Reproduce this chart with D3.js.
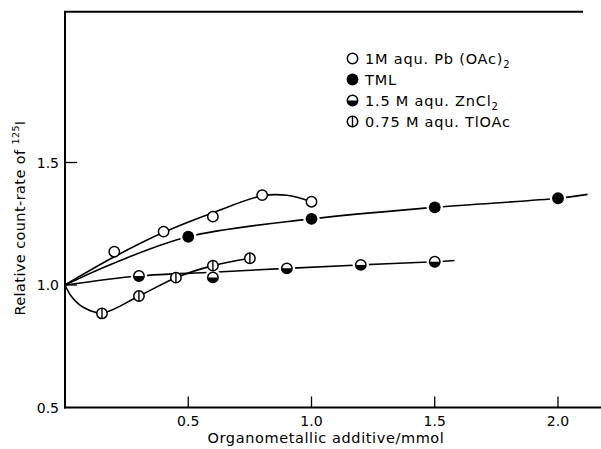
<!DOCTYPE html>
<html><head><meta charset="utf-8">
<script src="https://cdn.jsdelivr.net/npm/d3@7"></script>
<style>html,body{margin:0;padding:0;background:#fff;}svg{display:block;font-family:"DejaVu Sans",sans-serif;}</style>
</head><body>
<svg id="c" width="601" height="449"></svg>
<script>
// ---- data ----
const pbX = [0.2, 0.4, 0.6, 0.8, 1.0];
const pbY = [1.136, 1.218, 1.279, 1.367, 1.34];
const tmlX = [0.5, 1.0, 1.5, 2.0];
const tmlY = [1.197, 1.27, 1.317, 1.354];
const znX = [0.3, 0.6, 0.9, 1.2, 1.5];
const znY = [1.037, 1.031, 1.068, 1.082, 1.095];
const tlX = [0.15, 0.3, 0.45, 0.6, 0.75];
const tlY = [0.884, 0.955, 1.03, 1.079, 1.109];
// fitted curves
const pbCurveX = [0, 0.2, 0.4, 0.6, 0.8, 0.9, 1.0];
const pbCurveY = [1.0, 1.115, 1.215, 1.295, 1.364, 1.366, 1.34];
const tmlCurveX = [0, 0.2, 0.5, 1.0, 1.5, 2.0, 2.12];
const tmlCurveY = [1.0, 1.09, 1.197, 1.27, 1.317, 1.354, 1.37];
const znCurveX = [0, 0.3, 0.6, 0.9, 1.2, 1.5, 1.58];
const znCurveY = [1.0, 1.037, 1.052, 1.068, 1.082, 1.095, 1.10];
const tlCurveX = [0, 0.027, 0.074, 0.15, 0.3, 0.45, 0.6, 0.75];
const tlCurveY = [1.0, 0.952, 0.909, 0.886, 0.955, 1.03, 1.079, 1.109];
const xTicks = [0.5, 1.0, 1.5, 2.0];
const yTicks = [0.5, 1.0, 1.5];
const legendLabels = ["1M aqu. Pb (OAc)", "TML", "1.5 M aqu. ZnCl", "0.75 M aqu. TlOAc"];
const legendSubs = ["2", "", "2", ""];
const markerTypes = ["open", "filled", "half", "vbar"];

// ---- scales ----
const svg = d3.select("#c");
const x = d3.scaleLinear().domain([0, 2]).range([65, 558]);
const y = d3.scaleLinear().domain([0.5, 1.5]).range([407.5, 162.5]);
const yTop = 2.115;

// ---- frame ----
svg.append("line").attr("x1", 65).attr("x2", 65).attr("y1", y(yTop)).attr("y2", y(0.5)+1)
  .attr("stroke", "#000").attr("stroke-width", 2);
svg.append("line").attr("x1", 64).attr("x2", 583).attr("y1", y(yTop)).attr("y2", y(yTop))
  .attr("stroke", "#000").attr("stroke-width", 2);
svg.append("line").attr("x1", 64).attr("x2", 601).attr("y1", y(0.5)).attr("y2", y(0.5))
  .attr("stroke", "#000").attr("stroke-width", 2);

// x ticks
const xt = svg.append("g");
xt.selectAll("line").data(xTicks).join("line")
  .attr("x1", d => x(d)).attr("x2", d => x(d)).attr("y1", y(0.5)).attr("y2", y(0.5) - 11)
  .attr("stroke", "#000").attr("stroke-width", 1.3);
xt.selectAll("text").data(xTicks).join("text")
  .attr("x", d => x(d)).attr("y", y(0.5) + 18).attr("text-anchor", "middle")
  .attr("font-size", 14).text(d => d.toFixed(1));
// y ticks
const yt = svg.append("g");
yt.selectAll("line").data(yTicks.filter(d => d > 0.5)).join("line")
  .attr("x1", 65).attr("x2", 77).attr("y1", d => y(d)).attr("y2", d => y(d))
  .attr("stroke", "#000").attr("stroke-width", 1.3);
yt.selectAll("text").data(yTicks).join("text")
  .attr("x", 59).attr("y", d => y(d) + 5).attr("text-anchor", "end")
  .attr("font-size", 14).text(d => d.toFixed(1));

// axis titles
svg.append("text").attr("x", 326).attr("y", 443).attr("text-anchor", "middle")
  .attr("font-size", 14.5).attr("letter-spacing", 0.6).text("Organometallic additive/mmol");
const yl = svg.append("text").attr("transform", "translate(25,218) rotate(-90)")
  .attr("text-anchor", "middle").attr("font-size", 14.5).attr("letter-spacing", 0.4);
yl.append("tspan").text("Relative count-rate of ");
yl.append("tspan").attr("font-size", 9.5).attr("dy", -6).text("125");
yl.append("tspan").attr("dy", 6).text("I");

// ---- curves ----
const line = d3.line().x(d => x(d[0])).y(d => y(d[1])).curve(d3.curveCatmullRom.alpha(0.5));
const curves = [
  [pbCurveX, pbCurveY], [tmlCurveX, tmlCurveY], [znCurveX, znCurveY], [tlCurveX, tlCurveY]
];
curves.forEach(([cx, cy]) => {
  svg.append("path").attr("d", line(cx.map((v, i) => [v, cy[i]])))
    .attr("fill", "none").attr("stroke", "#000").attr("stroke-width", 1.6);
});

// ---- markers ----
const R = 5.2;
function marker(g, cx, cy, type, halo) {
  if (halo) g.append("circle").attr("cx", cx).attr("cy", cy).attr("r", R + 3).attr("fill", "#fff");
  if (type === "filled") {
    g.append("circle").attr("cx", cx).attr("cy", cy).attr("r", R + 0.7).attr("fill", "#000");
    return;
  }
  g.append("circle").attr("cx", cx).attr("cy", cy).attr("r", R).attr("fill", "#fff")
    .attr("stroke", "#000").attr("stroke-width", 1.5);
  if (type === "half") {
    g.append("path").attr("d", `M${cx - R},${cy} A${R},${R} 0 0 0 ${cx + R},${cy} Z`).attr("fill", "#000");
  } else if (type === "vbar") {
    g.append("line").attr("x1", cx).attr("x2", cx).attr("y1", cy - R).attr("y2", cy + R)
      .attr("stroke", "#000").attr("stroke-width", 1.4);
  }
}
const series = [
  [pbX, pbY, "open", false], [tmlX, tmlY, "filled", true], [znX, znY, "half", true], [tlX, tlY, "vbar", false]
];
series.forEach(([sx, sy, type, halo]) => {
  const g = svg.append("g");
  sx.forEach((v, i) => marker(g, x(v), y(sy[i]), type, halo));
});

// ---- legend ----
const lg = svg.append("g");
legendLabels.forEach((lab, i) => {
  const ly = 58.5 + i * 21;
  marker(lg, 352.5, ly, markerTypes[i], false);
  const t = lg.append("text").attr("x", 365).attr("y", ly + 5).attr("font-size", 14.5).attr("letter-spacing", 0.8);
  t.append("tspan").text(lab);
  if (legendSubs[i]) t.append("tspan").attr("font-size", 10).attr("dy", 4).text(legendSubs[i]);
});
</script>
</body></html>
